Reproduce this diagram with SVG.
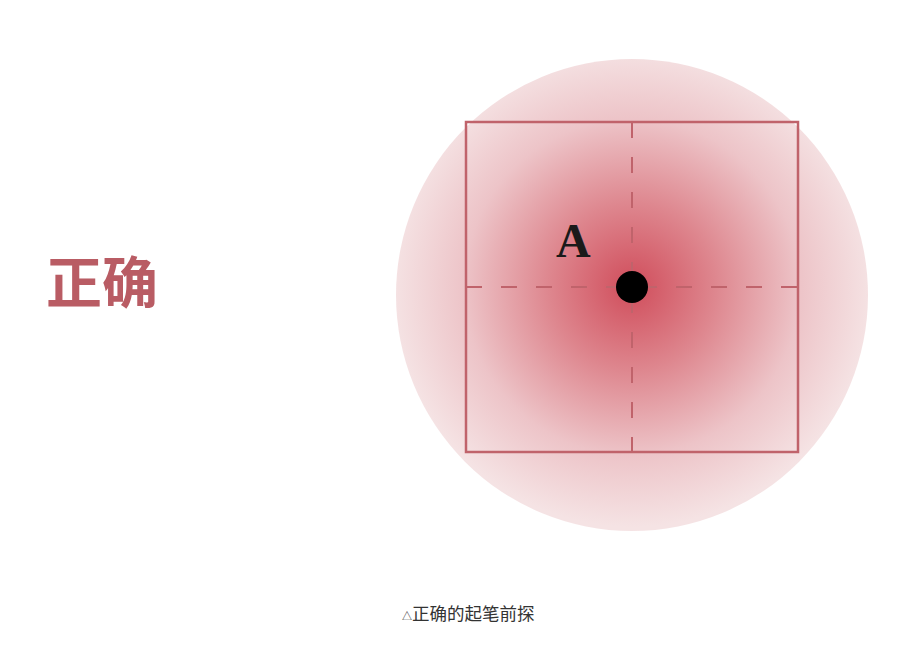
<svg xmlns="http://www.w3.org/2000/svg" width="915" height="656" viewBox="0 0 915 656">
<defs>
<radialGradient id="g" gradientUnits="userSpaceOnUse" cx="632" cy="287" r="240" fx="632" fy="287">
<stop offset="0" stop-color="#d04d5b"/>
<stop offset="0.35" stop-color="#de878f"/>
<stop offset="0.7" stop-color="#edc4c8"/>
<stop offset="1" stop-color="#f5e3e4"/>
</radialGradient>
<style>
.ln{stroke:#c0636b;stroke-width:2.5;fill:none}
.ds{stroke:#c0636b;stroke-width:2;stroke-dasharray:16 19;fill:none}
</style>
</defs>
<rect width="915" height="656" fill="#ffffff"/>
<g id="title"><text x="46" y="303" font-family="Noto Sans CJK SC, Noto Sans CJK JP, sans-serif" font-size="56" font-weight="700" fill="#b95c64">正确</text></g>
<g id="circle"><circle cx="632" cy="295" r="236" fill="url(#g)"/></g>
<g id="grid">
<rect class="ln" x="466" y="122" width="332" height="330"/>
<line class="ds" x1="632" y1="122" x2="632" y2="452"/>
<line class="ds" x1="466" y1="287" x2="798" y2="287"/>
</g>
<g id="label"><text x="556" y="257" font-family="Liberation Serif, serif" font-size="48" font-weight="700" fill="#1a1a1a">A</text></g>
<g id="dot"><circle cx="632" cy="287" r="16" fill="#000"/></g>
<g id="caption"><text x="402" y="620" font-family="Noto Sans CJK SC, sans-serif" font-size="17.5" fill="#333"><tspan font-size="10">△</tspan>正确的起笔前探</text></g>
</svg>
